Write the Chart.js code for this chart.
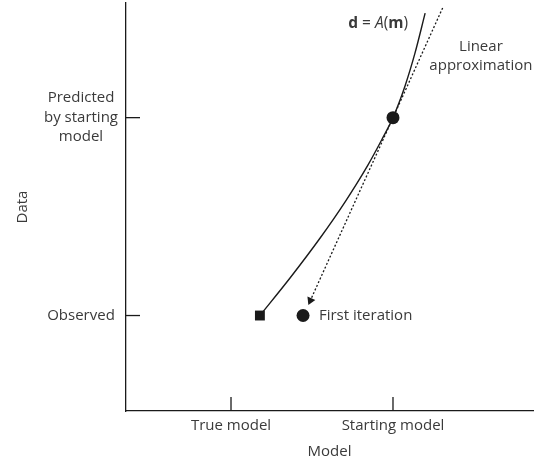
<!DOCTYPE html>
<html><head><meta charset="utf-8">
<script src="https://cdn.jsdelivr.net/npm/chart.js@4/dist/chart.umd.min.js"></script>
<style>html,body{margin:0;padding:0;background:#fff}</style>
</head><body>
<canvas id="c" width="543" height="462"></canvas>
<script>
// ---- data ----
const xTickValues = [2.58, 6.56];
const xTickLabels = ['True model', 'Starting model'];
const yTickValues = [7.19, 2.34];
const yTickLabels = [['Predicted', 'by starting', 'model'], 'Observed'];
const curveX = [3.29, 4.03, 4.77, 5.38, 5.94, 6.29, 6.56, 6.86, 7.10, 7.35];
const curveY = [2.34, 3.26, 4.24, 5.12, 6.02, 6.66, 7.19, 7.98, 8.77, 9.75];
const linearX = [7.78, 4.53];
const linearY = [9.88, 2.71];
const startPoint = [6.56, 7.19];
const truePoint = [3.29, 2.34];
const iterPoint = [4.35, 2.34];
const labelCurve = [6.93, 9.49];
const labelLinear = [8.72, 8.69];
const labelIter = [4.74, 2.34];

const INK = '#1a1a1a';
const TXT = '#3a3a3a';
const FONT = "'Open Sans', 'Noto Sans', sans-serif";
const pts = (xs, ys) => xs.map((x, i) => ({x, y: ys[i]}));

const innerTicks = {
  id: 'innerTicks',
  afterDatasetsDraw(chart) {
    const {ctx, scales: {x, y}} = chart;
    ctx.save();
    ctx.strokeStyle = INK; ctx.lineWidth = 1.3;
    xTickValues.forEach(v => {
      const px = x.getPixelForValue(v);
      ctx.beginPath(); ctx.moveTo(px, y.bottom); ctx.lineTo(px, y.bottom - 14); ctx.stroke();
    });
    yTickValues.forEach(v => {
      const py = y.getPixelForValue(v);
      ctx.beginPath(); ctx.moveTo(x.left, py); ctx.lineTo(x.left + 14, py); ctx.stroke();
    });
    ctx.restore();
  }
};

const annotations = {
  id: 'annotations',
  afterDatasetsDraw(chart) {
    const {ctx, scales: {x, y}} = chart;
    ctx.save();
    ctx.fillStyle = TXT;
    ctx.textBaseline = 'middle';
    const parts = [
      ['bold 15.5px ' + FONT, 'd'],
      ['15.5px ' + FONT, ' = '],
      ['italic 15.5px ' + FONT, 'A'],
      ['15.5px ' + FONT, '('],
      ['bold 15.5px ' + FONT, 'm'],
      ['15.5px ' + FONT, ')']
    ];
    let total = 0;
    parts.forEach(p => { ctx.font = p[0]; total += ctx.measureText(p[1]).width; });
    let cx = x.getPixelForValue(labelCurve[0]) - total;
    const cy = y.getPixelForValue(labelCurve[1]);
    ctx.textAlign = 'left';
    parts.forEach(p => { ctx.font = p[0]; ctx.fillText(p[1], cx, cy); cx += ctx.measureText(p[1]).width; });
    ctx.font = '15px ' + FONT;
    ctx.textAlign = 'center';
    const lx = x.getPixelForValue(labelLinear[0]);
    const ly = y.getPixelForValue(labelLinear[1]);
    ctx.fillText('Linear', lx, ly - 9.5);
    ctx.fillText('approximation', lx, ly + 9.5);
    ctx.textAlign = 'left';
    ctx.fillText('First iteration', x.getPixelForValue(labelIter[0]), y.getPixelForValue(labelIter[1]));
    ctx.restore();
  }
};

new Chart(document.getElementById('c'), {
  type: 'scatter',
  data: {
    datasets: [
      { data: pts(curveX, curveY), showLine: true, borderColor: INK, borderWidth: 1.4,
        pointRadius: 0, cubicInterpolationMode: 'monotone', clip: false },
      { data: pts(linearX, linearY), showLine: true, borderColor: INK, borderWidth: 1.3,
        borderDash: [2, 2], pointRadius: [0, 5], pointStyle: 'triangle', rotation: 204,
        pointBackgroundColor: INK, pointBorderColor: INK, pointBorderWidth: 0, clip: false },
      { data: [{x: startPoint[0], y: startPoint[1]}], pointRadius: 6.5,
        pointBackgroundColor: INK, pointBorderColor: INK, pointBorderWidth: 0 },
      { data: [{x: truePoint[0], y: truePoint[1]}], pointRadius: 7, pointStyle: 'rect',
        pointBackgroundColor: INK, pointBorderColor: INK, pointBorderWidth: 0 },
      { data: [{x: iterPoint[0], y: iterPoint[1]}], pointRadius: 6.5,
        pointBackgroundColor: INK, pointBorderColor: INK, pointBorderWidth: 0 }
    ]
  },
  options: {
    responsive: false,
    animation: false,
    events: [],
    layout: { autoPadding: false, padding: { top: 3, right: 10, left: 0, bottom: 0 } },
    plugins: { legend: { display: false }, tooltip: { enabled: false } },
    scales: {
      x: {
        type: 'linear', min: 0, max: 10,
        border: { color: INK, width: 1.3 },
        grid: { drawOnChartArea: false, drawTicks: false },
        afterBuildTicks: s => { s.ticks = xTickValues.map(v => ({value: v})); },
        ticks: {
          padding: 6, color: TXT, font: { family: FONT, size: 15 }, maxRotation: 0, autoSkip: false,
          callback: v => { const i = xTickValues.indexOf(v); return i >= 0 ? xTickLabels[i] : ''; }
        },
        title: { display: true, text: 'Model', color: TXT, font: { family: FONT, size: 15 },
          padding: { top: 5, bottom: 1 } },
        afterFit: s => { s.height = 51; s.paddingLeft = 0; s.paddingRight = 0; }
      },
      y: {
        type: 'linear', min: 0, max: 10,
        border: { color: INK, width: 1.3 },
        grid: { drawOnChartArea: false, drawTicks: false },
        afterBuildTicks: s => { s.ticks = yTickValues.map(v => ({value: v})); },
        ticks: {
          padding: 8, color: TXT, crossAlign: 'center', autoSkip: false,
          font: { family: FONT, size: 15, lineHeight: 1.3 },
          callback: v => { const i = yTickValues.indexOf(v); return i >= 0 ? yTickLabels[i] : ''; }
        },
        title: { display: true, text: 'Data', color: TXT, font: { family: FONT, size: 15 },
          padding: { top: 14, bottom: 0 } },
        afterFit: s => { s.width = 126; s.paddingTop = 0; s.paddingBottom = 0; }
      }
    }
  },
  plugins: [innerTicks, annotations]
});
</script>
</body></html>
